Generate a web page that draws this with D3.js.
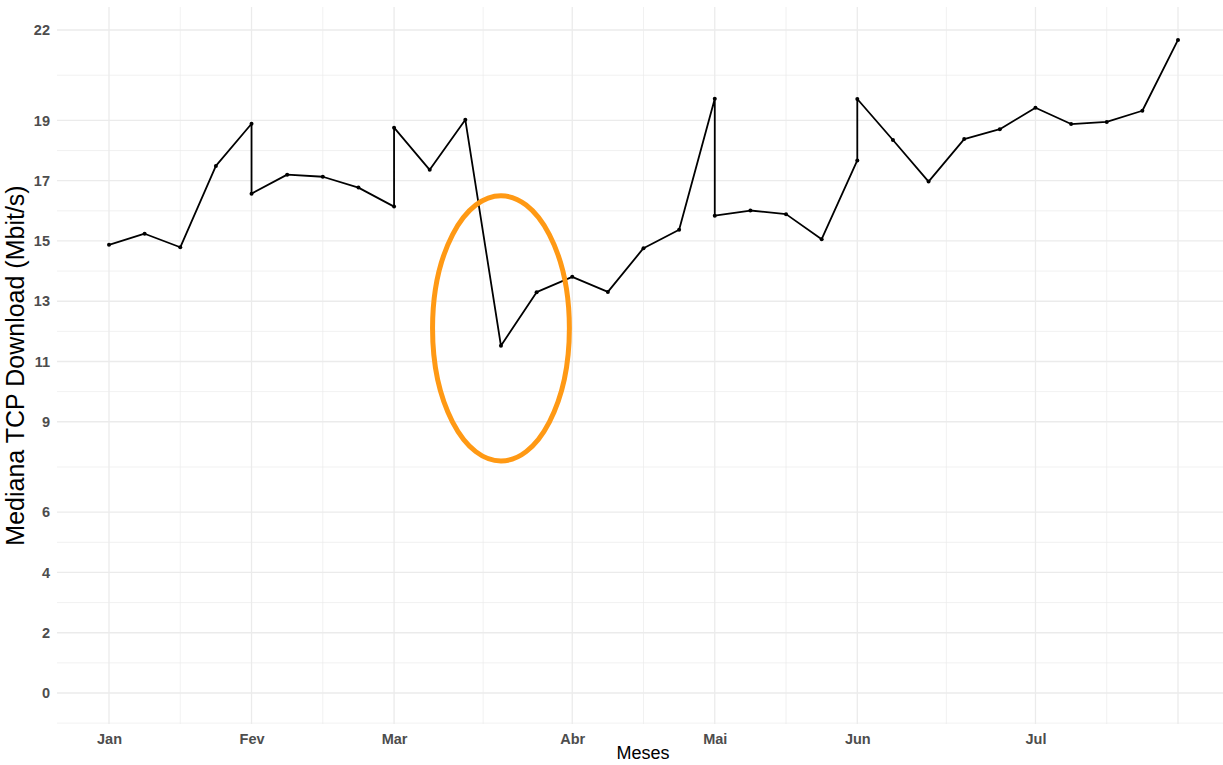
<!DOCTYPE html>
<html lang="pt">
<head>
	<meta charset="UTF-8">
	<title>Mediana TCP Download</title>
	<style>
		body { margin: 0; background: #fff; }
		svg { display: block; font-family: "Liberation Sans", Arial, sans-serif; }
		.grid-major line { stroke: #ebebeb; stroke-width: 1.3; }
		.grid-minor line { stroke: #ebebeb; stroke-width: 0.7; }
		.Axis text { font-weight: bold; font-size: 14.5px; fill: #4d4d4d; }
		.Axis path, .Axis line { display: none; }
	</style>
	<script src="https://d3js.org/d3.v7.min.js"></script>
</head>
<body>
	<script>
		// semana (indice) e mediana em Mbit/s; semanas repetidas = viradas de mes
		const weeks = [0, 1, 2, 3, 4, 4, 5, 6, 7, 8, 8, 9, 10, 11, 12, 13, 14, 15, 16, 17, 17,
		               18, 19, 20, 21, 21, 22, 23, 24, 25, 26, 27, 28, 29, 30];
		const values = [14.87, 15.24, 14.79, 17.49, 18.89, 16.57, 17.2, 17.13, 16.77, 16.14, 18.76,
		                17.36, 19.02, 11.52, 13.3, 13.81, 13.31, 14.76, 15.37, 19.72, 15.84,
		                16.01, 15.89, 15.06, 17.67, 19.71, 18.35, 16.97, 18.38, 18.71, 19.42,
		                18.88, 18.95, 19.32, 21.67];

		const monthBreaks = [0, 4, 8, 13, 17, 21, 26, 30];
		const monthLabels = ["Jan", "Fev", "Mar", "Abr", "Mai", "Jun", "Jul", ""];
		const xMinor = [2, 6, 10.5, 15, 19, 23.5, 28];

		const yBreaks = [0, 2, 4, 6, 9, 11, 13, 15, 17, 19, 22];
		const yMinor = [-1, 1, 3, 5, 7.5, 10, 12, 14, 16, 18, 20.5];

		// destaque: queda de marco
		const highlight = {week: 11, value: 12.1, rw: 1.92, rv: 4.4};

		const w = 1223, h = 765;
		const panel = {left: 57, right: 1223, top: 7, bottom: 724};

		const svg = d3.select("body").append("svg")
			.attr("width", w)
			.attr("height", h);

		const xScale = d3.scaleLinear()
			.domain([0, 30])
			.range([109, 1178]);

		const yScale = d3.scaleLinear()
			.domain([0, 22])
			.range([693, 30]);

		// grade
		svg.append("g").attr("class", "grid-minor")
			.selectAll("line.h").data(yMinor).enter().append("line")
			.attr("x1", panel.left).attr("x2", panel.right)
			.attr("y1", d => yScale(d)).attr("y2", d => yScale(d));
		svg.append("g").attr("class", "grid-minor")
			.selectAll("line.v").data(xMinor).enter().append("line")
			.attr("x1", d => xScale(d)).attr("x2", d => xScale(d))
			.attr("y1", panel.top).attr("y2", panel.bottom);
		svg.append("g").attr("class", "grid-major")
			.selectAll("line.h").data(yBreaks).enter().append("line")
			.attr("x1", panel.left).attr("x2", panel.right)
			.attr("y1", d => yScale(d)).attr("y2", d => yScale(d));
		svg.append("g").attr("class", "grid-major")
			.selectAll("line.v").data(monthBreaks).enter().append("line")
			.attr("x1", d => xScale(d)).attr("x2", d => xScale(d))
			.attr("y1", panel.top).attr("y2", panel.bottom);

		// eixos
		const xAxis = d3.axisBottom(xScale)
			.tickValues(monthBreaks)
			.tickFormat((d, i) => monthLabels[i])
			.tickSize(0).tickPadding(10);
		svg.append("g").attr("class", "Axis x")
			.attr("transform", "translate(0," + panel.bottom + ")")
			.call(xAxis);

		const yAxis = d3.axisLeft(yScale)
			.tickValues(yBreaks)
			.tickFormat(d3.format("d"))
			.tickSize(0).tickPadding(7);
		svg.append("g").attr("class", "Axis y")
			.attr("transform", "translate(" + panel.left + ",0)")
			.call(yAxis);

		// serie
		const data = weeks.map((wk, i) => [wk, values[i]]);

		svg.append("path")
			.datum(data)
			.attr("fill", "none")
			.attr("stroke", "#000")
			.attr("stroke-width", 1.8)
			.attr("stroke-linejoin", "round")
			.attr("d", d3.line().x(d => xScale(d[0])).y(d => yScale(d[1])));

		svg.append("g").selectAll("circle")
			.data(data).enter()
			.append("circle")
			.attr("cx", d => xScale(d[0]))
			.attr("cy", d => yScale(d[1]))
			.attr("r", 2)
			.attr("fill", "#000");

		svg.append("ellipse")
			.attr("cx", xScale(highlight.week))
			.attr("cy", yScale(highlight.value))
			.attr("rx", xScale(highlight.rw) - xScale(0))
			.attr("ry", yScale(0) - yScale(highlight.rv))
			.attr("fill", "none")
			.attr("stroke", "#ff9914")
			.attr("stroke-width", 5);

		// titulos
		svg.append("text")
			.attr("x", (panel.left + panel.right) / 2 + 3)
			.attr("y", 759)
			.attr("text-anchor", "middle")
			.attr("font-size", 18)
			.attr("fill", "#000")
			.text("Meses");

		svg.append("text")
			.attr("transform", "translate(24," + ((panel.top + panel.bottom) / 2) + ") rotate(-90)")
			.attr("text-anchor", "middle")
			.attr("font-size", 25)
			.attr("fill", "#000")
			.text("Mediana TCP Download (Mbit/s)");
	</script>
</body>
</html>
